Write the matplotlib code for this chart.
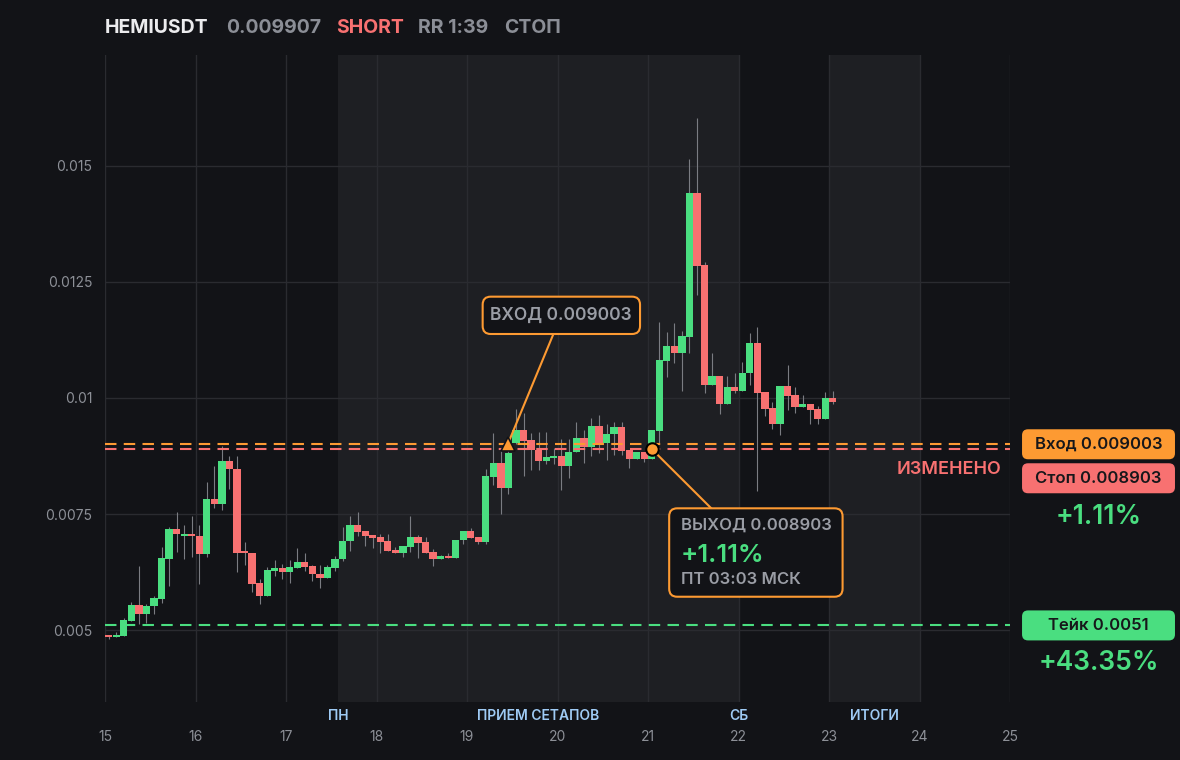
import numpy as np
import matplotlib.pyplot as plt
from matplotlib.patches import FancyBboxPatch
from matplotlib.transforms import blended_transform_factory

plt.rcParams['font.family'] = ['Inter', 'DejaVu Sans']

# 2h свечи HEMIUSDT
opens = [
    0.004892, 0.00486, 0.00488, 0.00519, 0.00554, 0.00534, 0.00552, 0.00566, 0.00654, 0.00718,
    0.00703, 0.00707, 0.00703, 0.00663, 0.00782, 0.00772, 0.00865, 0.00847, 0.00667, 0.00666,
    0.00602, 0.00574, 0.00628, 0.00633, 0.00625, 0.00634, 0.00647, 0.00638, 0.00621, 0.00613,
    0.00634, 0.00654, 0.00691, 0.00727, 0.00713, 0.00705, 0.00700, 0.00692, 0.00672, 0.00667,
    0.00680, 0.00700, 0.00690, 0.00668, 0.00654, 0.00660, 0.00656, 0.00693, 0.00713, 0.00700,
    0.00690, 0.00830, 0.00860, 0.00807, 0.00904, 0.00930, 0.00909, 0.00889, 0.00865, 0.00871,
    0.00875, 0.00854, 0.00884, 0.00913, 0.00894, 0.00940, 0.00902, 0.00922, 0.00938, 0.00888,
    0.00869, 0.00884, 0.00869, 0.00929, 0.01080, 0.01112, 0.01098, 0.01132, 0.01442, 0.01287,
    0.01027, 0.01047, 0.00986, 0.01024, 0.01016, 0.01053, 0.01119, 0.01013, 0.00978, 0.00945,
    0.01026, 0.01007, 0.00981, 0.00986, 0.00976, 0.00955, 0.01000]
closes = [
    0.004856, 0.00488, 0.00522, 0.00554, 0.00534, 0.00552, 0.00568, 0.00655, 0.00718, 0.00706,
    0.00707, 0.00702, 0.00663, 0.00782, 0.00772, 0.00865, 0.00846, 0.00667, 0.00665, 0.00600,
    0.00574, 0.00629, 0.00634, 0.00625, 0.00636, 0.00647, 0.00636, 0.00620, 0.00613, 0.00636,
    0.00654, 0.00692, 0.00727, 0.00711, 0.00703, 0.00699, 0.00690, 0.00671, 0.00667, 0.00681,
    0.00700, 0.00688, 0.00667, 0.00654, 0.00660, 0.00656, 0.00694, 0.00713, 0.00699, 0.00690,
    0.00832, 0.00860, 0.00807, 0.00882, 0.00931, 0.00907, 0.00889, 0.00865, 0.00873, 0.00875,
    0.00854, 0.00884, 0.00913, 0.00894, 0.00940, 0.00902, 0.00922, 0.00938, 0.00886, 0.00869,
    0.00884, 0.00869, 0.00931, 0.01082, 0.01112, 0.01098, 0.01134, 0.01442, 0.01285, 0.01027,
    0.01047, 0.00986, 0.01024, 0.01016, 0.01053, 0.01119, 0.01011, 0.00977, 0.00945, 0.01026,
    0.01005, 0.00981, 0.00986, 0.00975, 0.00955, 0.01000, 0.009907]
highs = [
    0.004892, 0.00496, 0.00526, 0.00560, 0.00638, 0.00556, 0.00573, 0.00679, 0.00723, 0.00754,
    0.00727, 0.00745, 0.00727, 0.00820, 0.00854, 0.00897, 0.00874, 0.00874, 0.00689, 0.00667,
    0.00609, 0.00636, 0.00651, 0.00643, 0.00650, 0.00677, 0.00667, 0.00640, 0.00640, 0.00640,
    0.00659, 0.00722, 0.00746, 0.00754, 0.00713, 0.00705, 0.00706, 0.00706, 0.00680, 0.00681,
    0.00746, 0.00705, 0.00700, 0.00675, 0.00662, 0.00666, 0.00694, 0.00713, 0.00719, 0.00700,
    0.00847, 0.00925, 0.00889, 0.00900, 0.00976, 0.00967, 0.00925, 0.00927, 0.00927, 0.00893,
    0.00911, 0.00911, 0.00948, 0.00931, 0.00956, 0.00963, 0.00943, 0.00948, 0.00948, 0.00888,
    0.00884, 0.00884, 0.00931, 0.01164, 0.01142, 0.01161, 0.01144, 0.01515, 0.01603, 0.01293,
    0.01096, 0.01047, 0.01047, 0.01053, 0.01077, 0.01140, 0.01153, 0.01013, 0.00991, 0.01026,
    0.01071, 0.01024, 0.01007, 0.00986, 0.00983, 0.01013, 0.01015]
lows = [
    0.004802, 0.00486, 0.00488, 0.00519, 0.00513, 0.00516, 0.00535, 0.00559, 0.00596, 0.00668,
    0.00654, 0.00657, 0.00600, 0.00657, 0.00764, 0.00758, 0.00804, 0.00625, 0.00640, 0.00582,
    0.00557, 0.00574, 0.00616, 0.00611, 0.00602, 0.00634, 0.00628, 0.00605, 0.00591, 0.00613,
    0.00628, 0.00648, 0.00671, 0.00703, 0.00682, 0.00677, 0.00667, 0.00671, 0.00667, 0.00658,
    0.00669, 0.00656, 0.00667, 0.00639, 0.00654, 0.00656, 0.00656, 0.00686, 0.00699, 0.00686,
    0.00686, 0.00813, 0.00751, 0.00794, 0.00900, 0.00833, 0.00845, 0.00845, 0.00857, 0.00857,
    0.00802, 0.00828, 0.00884, 0.00859, 0.00874, 0.00881, 0.00866, 0.00877, 0.00877, 0.00850,
    0.00869, 0.00863, 0.00869, 0.00903, 0.01046, 0.01076, 0.01014, 0.01096, 0.01222, 0.01011,
    0.01027, 0.00965, 0.00986, 0.01011, 0.01016, 0.01028, 0.00800, 0.00962, 0.00934, 0.00921,
    0.00975, 0.00968, 0.00981, 0.00943, 0.00945, 0.00955, 0.00988]

first_candle = 15 + 1 / 24   # день месяца, середина первой свечи
candle_step = 1 / 12         # 2 часа

x_ticks = list(range(15, 26))
y_ticks = [0.005, 0.0075, 0.01, 0.0125, 0.015]
y_labels = ['0.005', '0.0075', '0.01', '0.0125', '0.015']

entry_price = 0.009003
stop_price = 0.008903
take_price = 0.0051
entry_time = 19.45
exit_time = 21.04

sessions = [(17.575, 22.0), (23.0, 24.0)]
session_names = ['ПН', 'ПРИЕМ СЕТАПОВ', 'СБ', 'ИТОГИ']
session_pos = [17.575, 19.79, 22.0, 23.5]

# цвета
bg = '#121317'
shade = '#1e1f23'
grid_c = '#2a2b30'
green = '#4ade80'
red = '#f87171'
orange = '#fd9a32'
grey = '#9a9da5'
tick_c = '#8d9097'
blue = '#9fcbf5'

fig = plt.figure(figsize=(11.8, 7.6), dpi=100, facecolor=bg)
ax = fig.add_axes([105 / 1180, 58 / 760, 905 / 1180, 647 / 760])
ax.set_facecolor(bg)
xmin, xmax = 15, 25
ymin, ymax = 0.00345, 0.01739
ax.set_xlim(xmin, xmax)
ax.set_ylim(ymin, ymax)
px_x = (xmax - xmin) / 905
px_y = (ymax - ymin) / 647

for a, b in sessions:
    ax.axvspan(a, b, color=shade, lw=0, zorder=0)

ax.set_xticks(x_ticks, [str(d) for d in x_ticks])
ax.set_yticks(y_ticks, y_labels)
ax.set_axisbelow(True)
ax.grid(True, color=grid_c, lw=1)
ax.tick_params(length=0, colors=tick_c, labelsize=10)
ax.tick_params(axis='x', pad=20)
ax.tick_params(axis='y', pad=9)
for s in ax.spines.values():
    s.set_visible(False)

# свечи
o = np.array(opens)
c = np.array(closes)
h = np.array(highs)
l = np.array(lows)
t = first_candle + np.arange(len(o)) * candle_step
cols = np.where(c >= o, green, red)
ax.vlines(t, l, h, color='#7a7c82', lw=0.8, zorder=2)
body = np.maximum(np.abs(c - o), 2 * px_y)
ax.bar(t, body, width=0.08, bottom=np.minimum(o, c), color=cols, lw=0, zorder=3)

# уровни
ax.axhline(entry_price, color=orange, lw=1.5, dashes=(5.5, 3.5), zorder=4)
ax.axhline(stop_price, color=red, lw=1.5, dashes=(5.5, 3.5), zorder=4)
ax.axhline(take_price, color=green, lw=1.5, dashes=(5.5, 3.5), zorder=4)


def box(x0, x1, y0, y1, fc, ec, r=8, lw=1.5):
    p = FancyBboxPatch((x0, y0), x1 - x0, y1 - y0,
                       boxstyle=f'round,pad=0,rounding_size={r * px_x}',
                       mutation_aspect=px_y / px_x, fc=fc, ec=ec, lw=lw,
                       clip_on=False, zorder=6)
    ax.add_patch(p)


# вход
ax.plot([entry_time, 20.04], [entry_price, 0.01178], color=orange, lw=1.5, zorder=5)
box(19.173, 20.912, 0.011379, 0.012183, bg, orange)
ax.text(20.042, 0.01178, 'ВХОД 0.009003', color=grey, fontsize=12.5, weight='semibold',
        ha='center', va='center', zorder=7)
ax.plot(entry_time, entry_price, marker='^', ms=10, color=orange, mec=bg, mew=1.2, zorder=7)

# выход
ax.plot([exit_time, 22.19], [stop_price, 0.00667], color=orange, lw=1.5, zorder=5)
box(21.234, 23.15, 0.005718, 0.007623, bg, orange)
ax.text(21.36, 0.007263, 'ВЫХОД 0.008903', color=grey, fontsize=12, weight='semibold',
        ha='left', va='center', zorder=7)
ax.text(21.36, 0.006616, '+1.11%', color=green, fontsize=18.5, weight='semibold',
        ha='left', va='center', zorder=7)
ax.text(21.36, 0.006093, 'ПТ 03:03 МСК', color=grey, fontsize=12, weight='semibold',
        ha='left', va='center', zorder=7)
ax.plot(exit_time, stop_price, marker='o', ms=9, color=orange, mec='#000000', mew=1.5, zorder=7)

ax.text(24.9, 0.00847, 'ИЗМЕНЕНО', color=red, fontsize=13, weight='semibold',
        ha='right', va='center')

# ценники справа
tag_x0, tag_x1 = 25.133, 26.823
tag_h = 30 * px_y
tag_mid = (tag_x0 + tag_x1) / 2
stop_tag = entry_price - 34 * px_y
for y, txt, fc in [(entry_price, 'Вход 0.009003', orange),
                   (stop_tag, 'Стоп 0.008903', red),
                   (take_price, 'Тейк 0.0051', green)]:
    box(tag_x0, tag_x1, y - tag_h / 2, y + tag_h / 2, fc, fc, r=6, lw=0)
    ax.text(tag_mid, y, txt, color='#17171a', fontsize=12, weight='semibold',
            ha='center', va='center', zorder=7, clip_on=False)
ax.text(tag_mid, 0.007442, '+1.11%', color=green, fontsize=19, weight='semibold',
        ha='center', va='center', clip_on=False)
ax.text(tag_mid, 0.004282, '+43.35%', color=green, fontsize=19, weight='semibold',
        ha='center', va='center', clip_on=False)

# подписи сессий
trans = blended_transform_factory(ax.transData, ax.transAxes)
for name, x in zip(session_names, session_pos):
    ax.text(x, -0.022, name, transform=trans, color=blue, fontsize=10, weight='semibold',
            ha='center', va='center')

# заголовок
title_parts = [('HEMIUSDT', '#ececee', 105), ('0.009907', '#8b8e96', 226),
               ('SHORT', red, 336), ('RR 1:39', '#8b8e96', 418), ('СТОП', '#8b8e96', 504)]
for txt, col, xp in title_parts:
    fig.text(xp / 1180, 1 - 28 / 760, txt, color=col, fontsize=14, weight='bold',
             ha='left', va='center')

fig.savefig('out.png', dpi=100, facecolor=bg)
